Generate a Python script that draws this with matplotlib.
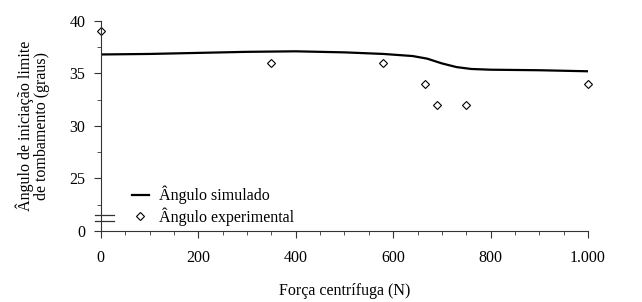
import matplotlib
matplotlib.use("Agg")
import matplotlib.pyplot as plt
import matplotlib.transforms as mtransforms
from matplotlib.ticker import MultipleLocator

plt.rcParams['font.family'] = ['Liberation Serif', 'DejaVu Serif']

# Simulated angle (line)
sim_force = [0, 100, 200, 300, 400, 500, 580, 640, 670, 700, 730, 760, 800, 900, 1000]
sim_angle = [36.8, 36.85, 36.95, 37.05, 37.1, 37.0, 36.85, 36.65, 36.4, 35.95, 35.6, 35.42, 35.35, 35.3, 35.2]

# Experimental angle (points)
exp_force = [0, 350, 580, 665, 690, 750, 1000]
exp_angle = [39, 36, 36, 34, 32, 32, 34]

# Y axis is broken: the bottom label "0" sits where 20 would be
y_ticks = [20, 25, 30, 35, 40]
y_labels = ['0', '25', '30', '35', '40']
x_ticks = [0, 200, 400, 600, 800, 1000]
x_labels = ['0', '200', '400', '600', '800', '1.000']

FS = 11.5

fig = plt.figure(figsize=(6.42, 3.02), dpi=100)
ax = fig.add_axes([0.157, 0.235, 0.759, 0.696])

ax.plot(sim_force, sim_angle, color='black', lw=1.6, label='Ângulo simulado')
ax.plot(exp_force, exp_angle, linestyle='none', marker='D', markersize=3.6,
        mfc='white', mec='black', mew=0.8, label='Ângulo experimental', clip_on=False)

ax.set_xlim(0, 1000)
ax.set_ylim(20, 40)
ax.set_xticks(x_ticks)
ax.set_xticklabels(x_labels)
ax.set_yticks(y_ticks)
ax.set_yticklabels(y_labels)
ax.xaxis.set_minor_locator(MultipleLocator(50))
ax.yaxis.set_minor_locator(MultipleLocator(2.5))

for s in ['top', 'right']:
    ax.spines[s].set_visible(False)
for s in ['left', 'bottom']:
    ax.spines[s].set_color('#333333')
    ax.spines[s].set_linewidth(0.8)

ax.tick_params(axis='both', which='major', direction='out', length=5, width=0.8,
               colors='#333333', labelcolor='black', labelsize=FS, pad=9)
ax.tick_params(axis='both', which='minor', direction='out', length=3, width=0.6,
               colors='#333333')
ax.tick_params(axis='y', which='major', pad=6)

# axis break marks
trans = mtransforms.blended_transform_factory(ax.transAxes, ax.transData)
for yb in [21.0, 21.55]:
    ax.plot([-0.011, 0.027], [yb, yb], color='#333333', lw=0.9, transform=trans, clip_on=False)

ax.set_xlabel('Força centrífuga (N)', fontsize=FS, labelpad=12)
ax.set_ylabel('Ângulo de iniciação limite\nde tombamento (graus)', fontsize=FS,
              labelpad=14, linespacing=1.0)

ax.legend(loc='lower left', bbox_to_anchor=(0.05, -0.006), frameon=False,
          fontsize=FS, handlelength=1.1, handletextpad=0.65, labelspacing=0.2,
          borderaxespad=0.0)

fig.savefig('out.png', dpi=100)
